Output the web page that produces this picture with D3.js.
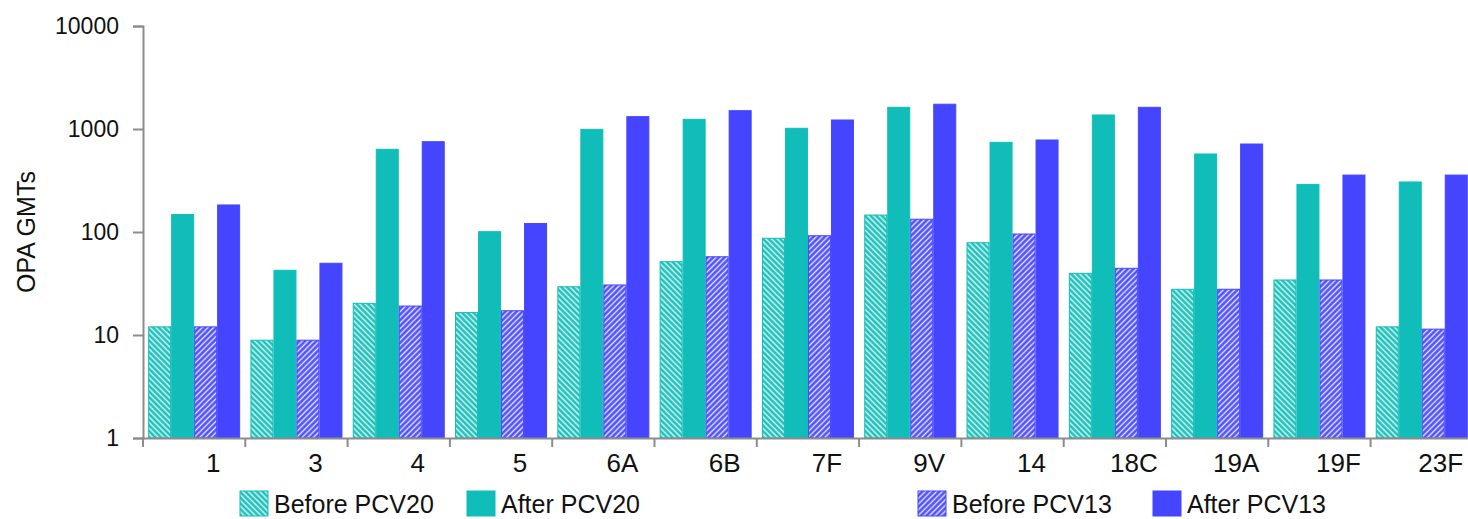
<!DOCTYPE html>
<html>
<head>
<meta charset="utf-8">
<script src="https://cdn.jsdelivr.net/npm/d3@7"></script>
<style>
  html, body { margin: 0; padding: 0; background: #fff; }
  svg { display: block; font-family: "Liberation Sans", Arial, sans-serif; }
</style>
</head>
<body>
<svg id="chart" width="1468" height="519"></svg>
<script>
const categories = ["1","3","4","5","6A","6B","7F","9V","14","18C","19A","19F","23F"];
const seriesNames = ["Before PCV20","After PCV20","Before PCV13","After PCV13"];
const beforePCV20 = [12.0, 8.9, 20.3, 16.5, 29.4, 51.5, 86.9, 146, 78.7, 39.7, 27.8, 34.2, 12.0];
const afterPCV20  = [148, 42.5, 635, 100.7, 993, 1242, 1016, 1624, 742, 1368, 572, 290, 306];
const beforePCV13 = [12.0, 8.9, 19.1, 17.2, 30.6, 57.5, 92, 133, 95.6, 44.4, 27.8, 34.2, 11.4];
const afterPCV13  = [183, 49.7, 753, 121, 1318, 1506, 1223, 1740, 782, 1624, 715, 357, 357];
const yTicks = [1, 10, 100, 1000, 10000];
const yTitle = "OPA GMTs";

(function () {
const seriesValues = [beforePCV20, afterPCV20, beforePCV13, afterPCV13];
const TEAL = "#10BDB8", BLUE = "#4545FF", AXIS = "#8c8c8c";
const seriesFill = ["url(#hatchTeal)", TEAL, "url(#hatchBlue)", BLUE];
const seriesStroke = [TEAL, TEAL, BLUE, BLUE];

const svg = d3.select("#chart");
const mLeft = 143, mTop = 26, mBottom = 438;
const step = 102.3;

const defs = svg.append("defs");
function hatch(id, color, angle) {
  const p = defs.append("pattern").attr("id", id)
    .attr("patternUnits", "userSpaceOnUse")
    .attr("width", 4).attr("height", 4)
    .attr("patternTransform", `rotate(${angle})`);
  p.append("rect").attr("width", 4).attr("height", 4).attr("fill", color);
  p.append("line").attr("x1", 1.5).attr("x2", 1.5).attr("y1", 0).attr("y2", 4)
    .attr("stroke", "#fff").attr("stroke-opacity", 0.85).attr("stroke-width", 1.6);
}
hatch("hatchTeal", TEAL, -45);
hatch("hatchBlue", BLUE, 45);

const x0 = d3.scaleBand().domain(categories)
  .range([mLeft, mLeft + step * categories.length]).paddingInner(0).paddingOuter(0);
const x1 = d3.scaleBand().domain(d3.range(seriesNames.length))
  .range([0, x0.bandwidth()]).paddingInner(0).paddingOuter(0.224);
const y = d3.scaleLog().domain([1, 10000]).range([mBottom, mTop]);

// bars
const groups = svg.append("g").selectAll("g").data(categories).join("g")
  .attr("transform", d => `translate(${x0(d)},0)`);
groups.selectAll("rect")
  .data((c, i) => seriesValues.map((vals, s) => ({ s, v: vals[i] })))
  .join("rect")
  .attr("x", d => x1(d.s) + 0.5)
  .attr("width", x1.bandwidth() - 1)
  .attr("y", d => y(d.v))
  .attr("height", d => y(1) - y(d.v))
  .attr("fill", d => seriesFill[d.s])
  .attr("stroke", d => seriesStroke[d.s])
  .attr("stroke-width", 1);

// y axis
const yAxis = svg.append("g").attr("transform", `translate(${mLeft},0)`)
  .call(d3.axisLeft(y).tickValues(yTicks).tickFormat(d3.format("d")).tickSize(10).tickPadding(14));
yAxis.select(".domain").attr("stroke", AXIS).attr("stroke-width", 2);
yAxis.selectAll(".tick line").attr("stroke", AXIS).attr("stroke-width", 2);
yAxis.selectAll(".tick text").attr("font-size", 23).attr("fill", "#111")
  .attr("font-family", "'Liberation Sans', Arial, sans-serif");

// x axis
const xAxis = svg.append("g").attr("transform", `translate(0,${mBottom})`)
  .call(d3.axisBottom(x0).tickSize(0).tickPadding(16));
xAxis.select(".domain").attr("stroke", AXIS).attr("stroke-width", 2);
xAxis.selectAll(".tick text").attr("font-size", 26).attr("fill", "#111")
  .attr("dx", 19)
  .attr("font-family", "'Liberation Sans', Arial, sans-serif");
xAxis.append("g").selectAll("line").data(categories).join("line")
  .attr("x1", d => x0(d)).attr("x2", d => x0(d))
  .attr("y1", 0).attr("y2", 9)
  .attr("stroke", AXIS).attr("stroke-width", 2);

// y title
svg.append("text")
  .attr("transform", `translate(35,${(mTop + mBottom) / 2}) rotate(-90)`)
  .attr("text-anchor", "middle")
  .attr("font-size", 25).attr("fill", "#111")
  .text(yTitle);

// legend
const legendX = [240, 467, 918, 1153];
const legend = svg.append("g").selectAll("g").data(seriesNames).join("g")
  .attr("transform", (d, i) => `translate(${legendX[i]},491)`);
legend.append("rect")
  .attr("width", 28).attr("height", 25)
  .attr("fill", (d, i) => seriesFill[i])
  .attr("stroke", (d, i) => seriesStroke[i]).attr("stroke-width", 1);
legend.append("text")
  .attr("x", 34).attr("y", 22)
  .attr("font-size", 25).attr("fill", "#111")
  .text(d => d);
})();
</script>
</body>
</html>
